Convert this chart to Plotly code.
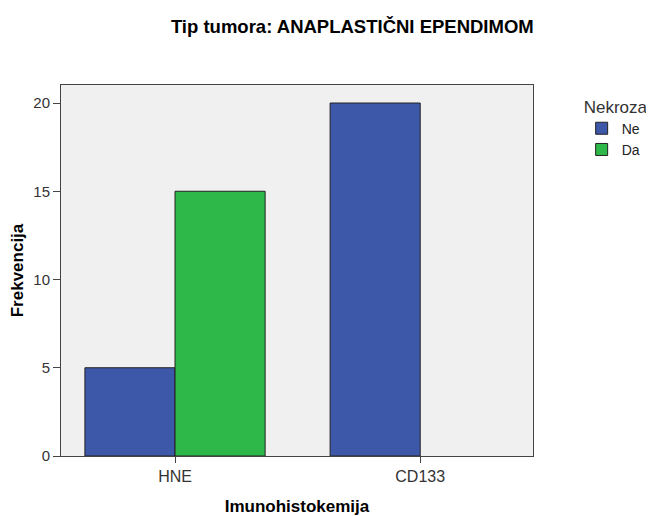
import plotly.graph_objects as go

categories = ["HNE", "CD133"]
ne_counts = [5, 20]
da_counts = [15, 0]
y_ticks = [0, 5, 10, 15, 20]

fig = go.Figure()
fig.add_trace(go.Bar(x=categories, y=ne_counts, name="Ne",
                     marker=dict(color="#3d57a9", line=dict(color="#222222", width=1))))
# zero-height bar is not drawn in the original, so no outline for it
fig.add_trace(go.Bar(x=categories, y=da_counts, name="Da",
                     marker=dict(color="#2eb84a",
                                 line=dict(color="#222222",
                                           width=[1 if v else 0 for v in da_counts]))))

# page has an 8px body margin, so the figure is 8px smaller than the window
fig.update_layout(
    width=646, height=508,
    barmode="group", bargap=0.265, bargroupgap=0,
    margin=dict(l=53, r=121, t=77, b=60, autoexpand=False),
    paper_bgcolor="white", plot_bgcolor="#f0f0f0",
    font=dict(family="Liberation Sans, Arial, sans-serif", size=13, color="#222"),
    title=dict(text="<b>Tip tumora: ANAPLASTIČNI EPENDIMOM</b>", x=0.533, xanchor="center",
               y=0.963, yanchor="middle", xref="container", yref="container",
               font=dict(size=18.5, color="#000")),
    legend=dict(title=dict(text="Nekroza", font=dict(size=17, color="#333")),
                xref="container", x=0.888, xanchor="left", y=0.985, yanchor="top",
                font=dict(size=14, color="#222"), itemwidth=30,
                tracegroupgap=0, bgcolor="rgba(0,0,0,0)"),
)
fig.update_xaxes(
    range=[-0.465, 1.46], showline=True, linecolor="#444", linewidth=1, mirror=True,
    ticks="outside", ticklen=6, tickcolor="#444",
    tickfont=dict(size=16, color="#333"), automargin=False,
    title=dict(text="<b>Imunohistokemija</b>", font=dict(size=17, color="#000"), standoff=17),
    showgrid=False,
)
fig.update_yaxes(
    range=[0, 21.02], tickvals=y_ticks, showline=True, linecolor="#444", linewidth=1,
    mirror=True, ticks="outside", ticklen=7, tickcolor="#444",
    tickfont=dict(size=15, color="#333"), automargin=False,
    title=dict(text="<b>Frekvencija</b>", font=dict(size=17, color="#000"), standoff=5),
    showgrid=False, zeroline=False,
)

fig.write_html("out.html")
